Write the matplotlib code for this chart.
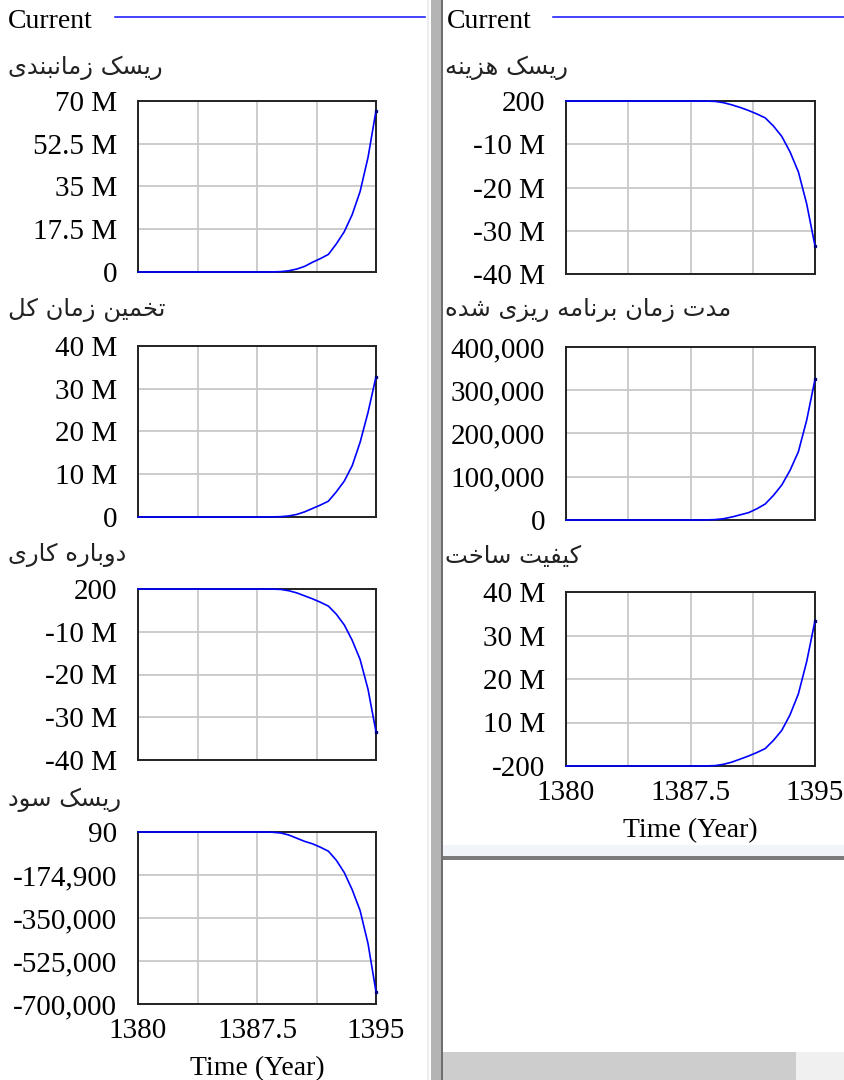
import numpy as np
import matplotlib.pyplot as plt
from matplotlib.patches import Rectangle
from matplotlib.lines import Line2D

plt.rcParams['font.family'] = ['Liberation Serif', 'DejaVu Serif']

# Dati
years = [1380, 1380.5, 1381, 1381.5, 1382, 1382.5, 1383, 1383.5, 1384, 1384.5,
         1385, 1385.5, 1386, 1386.5, 1387, 1387.5, 1388, 1388.5, 1389, 1389.5,
         1390, 1390.5, 1391, 1391.5, 1392, 1392.5, 1393, 1393.5, 1394, 1394.5, 1395]

risk_schedule = [0] * 17 + [0.05e6, 0.15e6, 0.5e6, 1.2e6, 2.3e6, 4.0e6, 5.5e6, 7.2e6,
                            11.5e6, 16.5e6, 23.5e6, 33e6, 47e6, 66e6]
total_time = [0] * 17 + [0.03e6, 0.08e6, 0.25e6, 0.6e6, 1.2e6, 2.0e6, 2.8e6, 3.7e6,
                         5.9e6, 8.4e6, 12e6, 17.5e6, 24.5e6, 32.8e6]
rework = [200] * 17 + [-0.03e6, -0.1e6, -0.4e6, -0.9e6, -1.6e6, -2.3e6, -3.1e6, -4.0e6,
                       -5.9e6, -8.4e6, -12e6, -16.5e6, -23.5e6, -33.4e6]
profit_risk = [90] * 17 + [-1000, -4000, -12000, -25000, -38000, -48000, -62000, -78000,
                           -115000, -165000, -235000, -320000, -455000, -650000]
cost_risk = [200] * 17 + [-0.03e6, -0.1e6, -0.4e6, -0.9e6, -1.5e6, -2.2e6, -3.0e6, -3.9e6,
                          -5.8e6, -8.2e6, -11.8e6, -16.4e6, -23.8e6, -33.5e6]
planned_duration = [0] * 17 + [300, 1000, 3000, 7000, 12000, 17000, 26000, 37000,
                               57000, 81000, 115000, 158000, 231000, 325000]
build_quality = [-200] * 17 + [0.03e6, 0.1e6, 0.4e6, 0.9e6, 1.6e6, 2.3e6, 3.1e6, 4.0e6,
                               5.9e6, 8.2e6, 11.8e6, 16.6e6, 24e6, 33.4e6]

titles = ['ریسک زمانبندی', 'تخمین زمان کل', 'دوباره کاری', 'ریسک سود',
          'ریسک هزینه', 'مدت زمان برنامه ریزی شده', 'کیفیت ساخت']
series = [risk_schedule, total_time, rework, profit_risk,
          cost_risk, planned_duration, build_quality]
y_limits = [(0, 70e6), (0, 40e6), (-40e6, 200), (-700000, 90),
            (-40e6, 200), (0, 400000), (-200, 40e6)]
y_labels = [['0', '17.5 M', '35 M', '52.5 M', '70 M'],
            ['0', '10 M', '20 M', '30 M', '40 M'],
            ['-40 M', '-30 M', '-20 M', '-10 M', '200'],
            ['-700,000', '-525,000', '-350,000', '-174,900', '90'],
            ['-40 M', '-30 M', '-20 M', '-10 M', '200'],
            ['0', '100,000', '200,000', '300,000', '400,000'],
            ['-200', '10 M', '20 M', '30 M', '40 M']]
x_grid = [1380, 1383.75, 1387.5, 1391.25, 1395]
x_labels = ['1380', '', '1387.5', '', '1395']

# Forme di presentazione arabe: isolata, finale, iniziale, mediana
FORMS = {
    'ا': ('\uFE8D', '\uFE8E', None, None),
    'د': ('\uFEA9', '\uFEAA', None, None),
    'ر': ('\uFEAD', '\uFEAE', None, None),
    'ز': ('\uFEAF', '\uFEB0', None, None),
    'و': ('\uFEED', '\uFEEE', None, None),
    'ب': ('\uFE8F', '\uFE90', '\uFE91', '\uFE92'),
    'ت': ('\uFE95', '\uFE96', '\uFE97', '\uFE98'),
    'خ': ('\uFEA5', '\uFEA6', '\uFEA7', '\uFEA8'),
    'س': ('\uFEB1', '\uFEB2', '\uFEB3', '\uFEB4'),
    'ش': ('\uFEB5', '\uFEB6', '\uFEB7', '\uFEB8'),
    'ف': ('\uFED1', '\uFED2', '\uFED3', '\uFED4'),
    'ل': ('\uFEDD', '\uFEDE', '\uFEDF', '\uFEE0'),
    'م': ('\uFEE1', '\uFEE2', '\uFEE3', '\uFEE4'),
    'ن': ('\uFEE5', '\uFEE6', '\uFEE7', '\uFEE8'),
    'ه': ('\uFEE9', '\uFEEA', '\uFEEB', '\uFEEC'),
    'ک': ('\uFB8E', '\uFB8F', '\uFB90', '\uFB91'),
    'ی': ('\uFBFC', '\uFBFD', '\uFBFE', '\uFBFF'),
}


def shape(text):
    # matplotlib non fa lo shaping: scelgo a mano le forme e inverto l'ordine
    out = []
    for i, c in enumerate(text):
        if c not in FORMS:
            out.append(c)
            continue
        prev = text[i - 1] if i > 0 else None
        nxt = text[i + 1] if i + 1 < len(text) else None
        jp = prev in FORMS and FORMS[prev][2] is not None
        jn = nxt in FORMS and FORMS[c][2] is not None
        iso, fin, ini, med = FORMS[c]
        if jp and jn:
            out.append(med)
        elif jp:
            out.append(fin)
        elif jn:
            out.append(ini)
        else:
            out.append(iso)
    return ''.join(reversed(out))


W, H = 844, 1080
fig = plt.figure(figsize=(W / 100, H / 100), dpi=100)


def rect(x0, y0, x1, y1, color):
    fig.add_artist(Rectangle((x0 / W, 1 - y1 / H), (x1 - x0) / W, (y1 - y0) / H,
                             transform=fig.transFigure, facecolor=color,
                             edgecolor='none', zorder=0))


def hline(x0, x1, y, color, lw):
    fig.add_artist(Line2D([x0 / W, x1 / W], [1 - y / H, 1 - y / H],
                          transform=fig.transFigure, color=color, lw=lw))


# Cornice della finestra
rect(427, 0, 429, H, '#ececec')
rect(431, 0, 441, H, '#b4b4b4')
rect(441, 0, 443, H, '#6e6e6e')
rect(443, 845, W, 856, '#f1f4f9')
rect(443, 856, W, 860, '#7a7a7a')
rect(443, 1052, 796, H, '#cdcdcd')
rect(796, 1052, W, H, '#f0f0f0')

# Legenda "Current"
fig.text(8 / W, 1 - 21 / H, 'Current', fontsize=20, va='center', ha='left')
fig.text(447 / W, 1 - 21 / H, 'Current', fontsize=20, va='center', ha='left')
hline(115, 425, 17, '#1010ff', 1.1)
hline(553, W, 17, '#1010ff', 1.1)

# Posizioni dei pannelli in pixel: (x0, y0, larghezza, altezza)
boxes = [(138, 101, 238, 171), (138, 346, 238, 171), (138, 589, 238, 171), (138, 832, 238, 172),
         (566, 101, 249, 173), (566, 347, 249, 173), (566, 592, 249, 174)]
title_pos = [(8, 68), (8, 310), (8, 555), (8, 800), (445, 68), (445, 310), (445, 556)]
bottom_panels = [3, 6]

for i in range(7):
    x0, y0, w, h = boxes[i]
    ax = fig.add_axes([x0 / W, 1 - (y0 + h) / H, w / W, h / H])
    ax.plot(years, series[i], color='#0000ff', lw=1.2, clip_on=False, zorder=3)
    ax.plot(years[-1], series[i][-1], 's', color='#000080', ms=2, clip_on=False, zorder=4)
    lo, hi = y_limits[i]
    ax.set_xlim(1380, 1395)
    ax.set_ylim(lo, hi)
    ax.set_yticks(np.linspace(lo, hi, 5))
    ax.set_yticklabels(y_labels[i])
    ax.set_xticks(x_grid)
    if i in bottom_panels:
        ax.set_xticklabels(x_labels)
        ax.set_xlabel('Time (Year)', fontsize=20, labelpad=9)
    else:
        ax.set_xticklabels([])
    ax.grid(True, color='#c8c8c8', lw=1.3)
    ax.set_axisbelow(True)
    for s in ax.spines.values():
        s.set_color('#222222')
        s.set_linewidth(1.4)
    ax.tick_params(length=0, labelsize=21)
    ax.tick_params(axis='y', pad=15)
    ax.tick_params(axis='x', pad=10)

    tx, ty = title_pos[i]
    fig.text(tx / W, 1 - ty / H, shape(titles[i]), fontsize=17.5, va='center', ha='left',
             family='DejaVu Sans', color='#222222')

fig.savefig('out.png', dpi=100, facecolor='white')
